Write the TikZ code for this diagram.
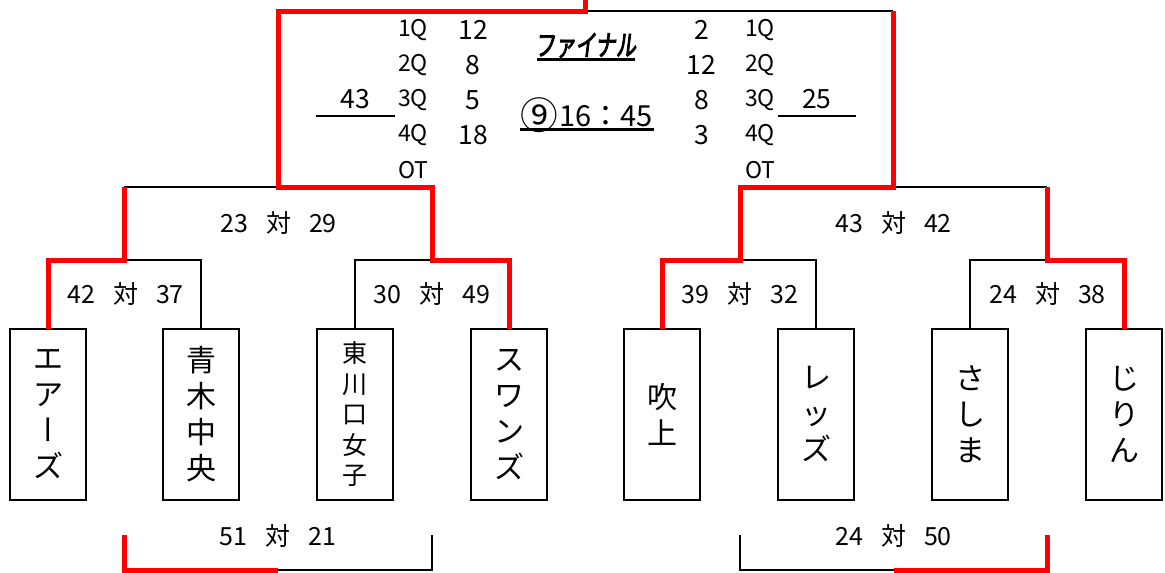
\documentclass[tikz,border=0pt]{standalone}
\usepackage{fontspec}
\setmainfont{Noto Sans CJK JP}
\newfontfamily\finfont[FakeStretch=0.7,FakeSlant=0.12,FakeBold=3]{Noto Sans CJK JP}
\newfontfamily\vertfont[RawFeature=+vert]{Noto Sans CJK JP}
\newcommand\vsline[2]{#1\hspace{18pt}対\hspace{18pt}#2}
\begin{document}
\begin{tikzpicture}[x=1pt,y=-1pt,
  thin/.style={line width=2.8pt, black, line join=miter},
  win/.style={line width=5pt, red, line join=miter},
  ul/.style={line width=2.8pt, black},
  teambox/.style={draw, line width=2.8pt, minimum width=76pt, minimum height=171pt,
    inner sep=0pt, outer sep=0pt, align=center, font=\fontsize{30}{36}\selectfont},
  score/.style={font=\fontsize{25}{25}\selectfont, inner sep=0pt},
  qlab/.style={font=\fontsize{23}{23}\selectfont, inner sep=0pt, anchor=west},
  qnum/.style={font=\fontsize{26.5}{26.5}\selectfont, inner sep=0pt}]
\useasboundingbox (0,0) rectangle (1165,573);

% team boxes
\node[teambox] (b1) at (48,414.5) {エ\\ア\\{\vertfont ー}\\ズ};
\node[teambox] (b2) at (201,414.5) {青\\木\\中\\央};
\node[teambox, font=\fontsize{25}{30.5}\selectfont] (b3) at (355,414.5) {東\\川\\口\\女\\子};
\node[teambox] (b4) at (509,414.5) {ス\\ワ\\ン\\ズ};
\node[teambox] (b5) at (662,414.5) {吹\\上};
\node[teambox] (b6) at (816,414.5) {レ\\ッ\\ズ};
\node[teambox] (b7) at (970,414.5) {さ\\し\\ま};
\node[teambox] (b8) at (1124,414.5) {じ\\り\\ん};

% junction coordinates
\coordinate (j12) at (124,260);
\coordinate (j34) at (432,260);
\coordinate (j56) at (740,260);
\coordinate (j78) at (1047,260);
\coordinate (a1) at (124,187);
\coordinate (a2) at (432,187);
\coordinate (a3) at (740,187);
\coordinate (a4) at (1047,187);
\coordinate (jL) at (278,187);
\coordinate (jR) at (893,187);
\coordinate (f1) at (278,11);
\coordinate (f2) at (893,11);
\coordinate (top) at (585.5,11);
\coordinate (champ) at (585.5,0);
% third place
\coordinate (t1) at (124,535);
\coordinate (t2) at (124,570);
\coordinate (tm) at (278,570);
\coordinate (t3) at (432,570);
\coordinate (t4) at (432,535);
\coordinate (u1) at (740,535);
\coordinate (u2) at (740,570);
\coordinate (um) at (893.5,570);
\coordinate (u3) at (1047,570);
\coordinate (u4) at (1047,535);

% black (losing) lines
\draw[thin] (b2.north) |- (j12);
\draw[thin] (b3.north) |- (j34);
\draw[thin] (b6.north) |- (j56);
\draw[thin] (b7.north) |- (j78);
\draw[thin] (a1) -- (jL);
\draw[thin] (jR) -- (a4);
\draw[thin] (top) -- (f2);
\draw[thin] (tm) -- (t3) -- (t4);
\draw[thin] (u1) -- (u2) -- (um);

% red (winning) lines
\draw[win] (b1.north) |- (j12) -- (a1);
\draw[win] (b4.north) |- (j34) -- (a2) -- (jL) -- (f1) -- (top) -- (champ);
\draw[win] (b5.north) |- (j56) -- (a3) -- (jR) -- (f2);
\draw[win] (b8.north) |- (j78) -- (a4);
\draw[win] (t1) -- (t2) -- (tm);
\draw[win] (um) -- (u3) -- (u4);

% match scores
\node[score] (s12) at (125.5,294) {\vsline{42}{37}};
\node[score] (s34) at (432,294) {\vsline{30}{49}};
\node[score] (s56) at (740,294) {\vsline{39}{32}};
\node[score] (s78) at (1047.5,294) {\vsline{24}{38}};
\node[score] (sL) at (278.5,223) {\vsline{23}{29}};
\node[score] (sR) at (893.5,223) {\vsline{43}{42}};
\node[score] (s3L) at (278,536) {\vsline{51}{21}};
\node[score] (s3R) at (893.5,536) {\vsline{24}{50}};

% final
\node[inner sep=0pt, font=\finfont\fontsize{29}{29}\selectfont] (fin) at (585.5,45.5) {ファイナル};
\draw[line width=2.4pt] (537,59.5) -- (635,59.5);
\node[inner sep=0pt, font=\fontsize{29}{29}\selectfont] (time) at (587,115) {\raisebox{-2.5pt}{\scalebox{1.3}{⑨}}\hspace{1pt}16：45};
\draw[ul] (520,129.5) -- (654,129.5);

\node[qnum] (totL) at (355,99.5) {43};
\draw[ul] (316,116) -- (394.5,116);
\node[qnum] (totR) at (816.7,99.5) {25};
\draw[ul] (778,116) -- (855.5,116);

% quarter labels
\node[qlab] (lq1) at (398,30.5) {1Q};
\node[qlab] (lq2) at (398,65.5) {2Q};
\node[qlab] (lq3) at (398,100.5) {3Q};
\node[qlab] (lq4) at (398,135.5) {4Q};
\node[qlab] (lq5) at (398,170.5) {OT};
\node[qlab] (rq1) at (745,30.5) {1Q};
\node[qlab] (rq2) at (745,65.5) {2Q};
\node[qlab] (rq3) at (745,100.5) {3Q};
\node[qlab] (rq4) at (745,135.5) {4Q};
\node[qlab] (rq5) at (745,170.5) {OT};

\node[qnum] (ln1) at (473,30) {12};
\node[qnum] (ln2) at (473,65) {8};
\node[qnum] (ln3) at (473,100) {5};
\node[qnum] (ln4) at (473,135) {18};
\node[qnum] (rn1) at (701.5,30) {2};
\node[qnum] (rn2) at (701.5,65) {12};
\node[qnum] (rn3) at (701.5,100) {8};
\node[qnum] (rn4) at (701.5,135) {3};
\end{tikzpicture}
\end{document}
